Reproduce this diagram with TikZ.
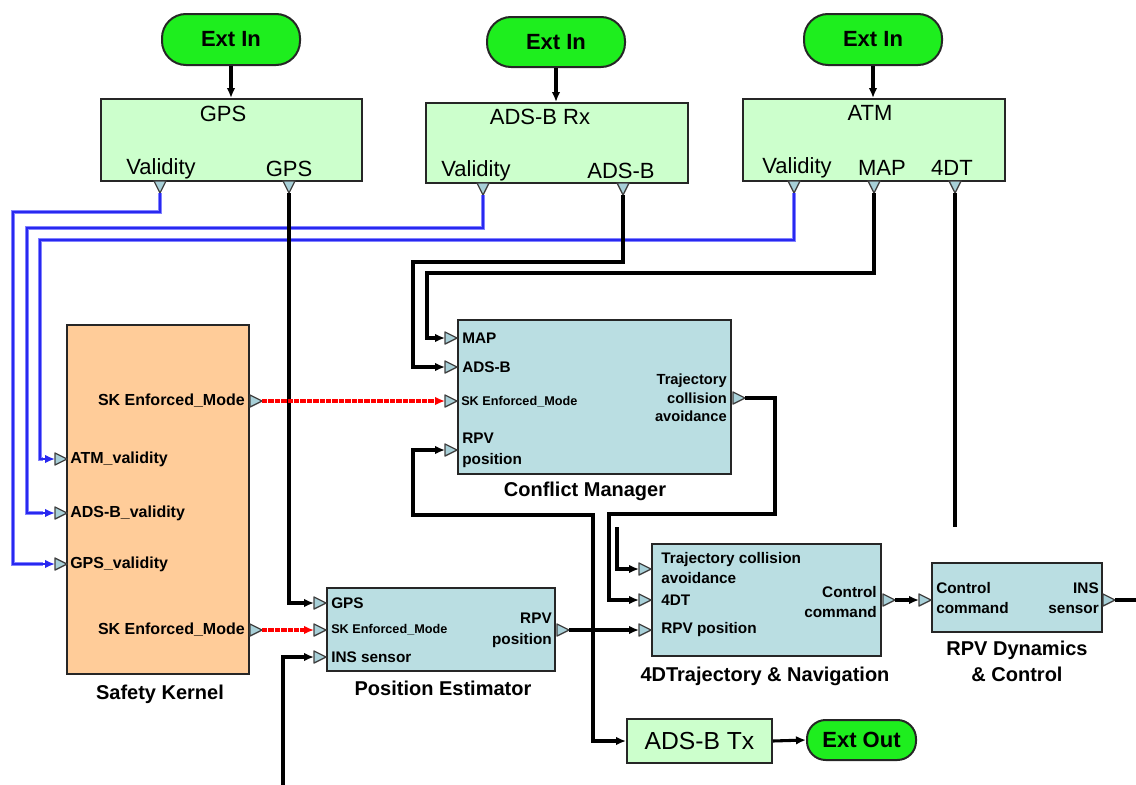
\documentclass[tikz,border=0pt]{standalone}
\usepackage{fontspec}
\setmainfont{Liberation Sans}
\usetikzlibrary{arrows.meta,fit}
\definecolor{extgreen}{RGB}{30,238,30}
\definecolor{lightgreen}{RGB}{204,255,204}
\definecolor{tealfill}{RGB}{186,222,226}
\definecolor{peach}{RGB}{255,204,153}
\definecolor{portblue}{RGB}{168,208,216}
\definecolor{wireblue}{RGB}{40,40,240}
\definecolor{wirehalo}{RGB}{130,130,255}
\tikzset{
  port/.style={fill=portblue, draw=black!75, line width=1pt, line join=round},
  pdown/.pic={\draw[port] (-6,0) -- (6,0) -- (0,12) -- cycle; \coordinate (-tip) at (0,12);},
  pright/.pic={\draw[port] (0,-6) -- (0,6) -- (12,0) -- cycle;
               \coordinate (-base) at (0,0); \coordinate (-tip) at (12,0);},
}
\begin{document}
\begin{tikzpicture}[x=0.75pt,y=-0.75pt,
  boxline/.style={draw=black!85, line width=1.5pt, inner sep=0pt},
  gbox/.style={boxline, fill=lightgreen},
  tbox/.style={boxline, fill=tealfill},
  skbox/.style={boxline, fill=peach},
  ext/.style={boxline, fill=extgreen, rounded corners=18pt},
  exttext/.style={inner sep=0pt, font=\fontsize{16.5}{19}\selectfont\bfseries},
  title/.style={inner sep=0pt, font=\fontsize{16.5}{19}\selectfont},
  blk/.style={inner sep=0pt, align=center, font=\fontsize{15}{19.5}\selectfont\bfseries},
  lbl/.style={inner sep=0pt, font=\fontsize{11.5}{15}\selectfont\bfseries},
  sklbl/.style={inner sep=0pt, font=\fontsize{12}{15}\selectfont\bfseries},
  tiny/.style={inner sep=0pt, font=\fontsize{9.5}{12}\selectfont\bfseries},
  tip/.style={-{Latex[length=7.5pt,width=6.5pt]}},
  wire/.style={draw=black, line width=2.3pt, line join=miter},
  bwire/.style={draw=wireblue, line width=2.2pt, tip},
  bhalo/.style={draw=wirehalo, line width=3.6pt},
  rwire/.style={draw=red, line width=2.5pt, dash pattern=on 4pt off 0.8pt, tip},
]
\useasboundingbox (0,0) rectangle (1136,785);

% ---------- external inputs and sensor blocks ----------
\node[ext, fit={(162,14) (300,65)}] (ext1) {};
\node[exttext] (ext1T) at (ext1) {Ext In};
\node[ext, fit={(487,17) (625,67)}] (ext2) {};
\node[exttext] (ext2T) at (ext2) {Ext In};
\node[ext, fit={(804,14) (942,65)}] (ext3) {};
\node[exttext] (ext3T) at (ext3) {Ext In};

\node[gbox, fit={(101,99) (362,181)}] (gps) {};
\node[title] (gpsT) at (223,114) {GPS};
\node[title] (gpsV) at (161,169) {Validity};
\node[title] (gpsD) at (289,169) {GPS};

\node[gbox, fit={(426,103) (688,183)}] (adsbrx) {};
\node[title] (adsT) at (540,117) {ADS-B Rx};
\node[title] (adsV) at (476,171) {Validity};
\node[title] (adsD) at (621,171) {ADS-B};

\node[gbox, fit={(743,99) (1005,181)}] (atm) {};
\node[title] (atmT) at (870,113) {ATM};
\node[title] (atmV) at (797,168) {Validity};
\node[title] (atmM) at (882,168) {MAP};
\node[title] (atmD) at (952,168) {4DT};

\pic (pGpsV) at (160,181) {pdown};
\pic (pGpsD) at (289,181) {pdown};
\pic (pAdsV) at (483,183) {pdown};
\pic (pAdsD) at (623,183) {pdown};
\pic (pAtmV) at (794,181) {pdown};
\pic (pAtmM) at (874,181) {pdown};
\pic (pAtmD) at (955,181) {pdown};

% ---------- safety kernel ----------
\node[skbox, fit={(67,325) (249,674)}] (sk) {};
\node[sklbl, anchor=east] (skM1) at (245,401) {SK Enforced\_Mode};
\node[sklbl, anchor=east] (skM2) at (245,630) {SK Enforced\_Mode};
\node[sklbl, anchor=west] (skA) at (70,459) {ATM\_validity};
\node[sklbl, anchor=west] (skB) at (70,513) {ADS-B\_validity};
\node[sklbl, anchor=west] (skG) at (70,564) {GPS\_validity};
\node[blk] (skT) at (160,694) {Safety Kernel};
\pic (pSKatm) at (55,459) {pright};
\pic (pSKads) at (55,513) {pright};
\pic (pSKgps) at (55,564) {pright};
\pic (pSKm1) at (250,401) {pright};
\pic (pSKm2) at (250,630) {pright};

% ---------- conflict manager ----------
\node[tbox, fit={(458,320) (731,474)}] (cm) {};
\node[lbl, anchor=west] (cmMap) at (462,338) {MAP};
\node[lbl, anchor=west] (cmAds) at (462,367) {ADS-B};
\node[tiny, anchor=west] (cmSk) at (461,402) {SK Enforced\_Mode};
\node[lbl, anchor=west, align=left, font=\fontsize{11.5}{15.5}\selectfont\bfseries] (cmRpv) at (462,450) {RPV\\position};
\node[lbl, anchor=east, align=right, font=\fontsize{11}{13.9}\selectfont\bfseries] (cmOut) at (727,398) {Trajectory\\collision\\avoidance};
\node[blk] (cmT) at (585,491) {Conflict Manager};
\pic (pCMmap) at (445,338) {pright};
\pic (pCMads) at (445,367) {pright};
\pic (pCMsk) at (445,401) {pright};
\pic (pCMrpv) at (445,450) {pright};
\pic (pCMout) at (733,398) {pright};

% ---------- position estimator ----------
\node[tbox, fit={(327,588) (555,671)}] (pe) {};
\node[lbl, anchor=west] (peGps) at (331,603) {GPS};
\node[tiny, anchor=west] (peSk) at (331,630) {SK Enforced\_Mode};
\node[lbl, anchor=west] (peIns) at (331,657) {INS sensor};
\node[lbl, anchor=east, align=right, font=\fontsize{11.5}{15.75}\selectfont\bfseries] (peOut) at (552,630) {RPV\\position};
\node[blk] (peT) at (443,688) {Position Estimator};
\pic (pPEgps) at (314,603) {pright};
\pic (pPEsk) at (314,630) {pright};
\pic (pPEins) at (314,657) {pright};
\pic (pPEout) at (557,630) {pright};

% ---------- 4D trajectory & navigation ----------
\node[tbox, fit={(652,544) (881,656)}] (traj) {};
\node[lbl, anchor=west, align=left] (trTca) at (661,568) {Trajectory collision\\avoidance};
\node[lbl, anchor=west] (trDt) at (661,600) {4DT};
\node[lbl, anchor=west] (trRpv) at (661,630) {RPV position};
\node[lbl, anchor=east, align=right] (trOut) at (877,602) {Control\\command};
\node[blk] (trT) at (765,676) {4DTrajectory \& Navigation};
\pic (pTRtca) at (639,569) {pright};
\pic (pTRdt) at (639,600) {pright};
\pic (pTRrpv) at (639,630) {pright};
\pic (pTRout) at (883,600) {pright};

% ---------- RPV dynamics & control ----------
\node[tbox, fit={(932,563) (1102,632)}] (rpv) {};
\node[lbl, anchor=west, align=left] (rpvIn) at (936,598) {Control\\command};
\node[lbl, anchor=east, align=right] (rpvOut) at (1099,598) {INS\\sensor};
\node[blk] (rpvT) at (1017,661) {RPV Dynamics\\\& Control};
\pic (pRPVin) at (919,600) {pright};
\pic (pRPVout) at (1103,600) {pright};

% ---------- ADS-B transmitter ----------
\node[gbox, fit={(627,719) (772,763)}] (adsbtx) {};
\node[title, font=\fontsize{18.5}{21}\selectfont] (adsbtxT) at (adsbtx) {ADS-B Tx};
\node[ext, rounded corners=14pt, fit={(807,720) (916,760)}] (extout) {};
\node[exttext] (extoutT) at (extout) {Ext Out};

% ---------- free wire ends ----------
\coordinate (insIn) at (283,785);
\coordinate (dtEnd) at (955,527);
\coordinate (tcaStart) at (617,527);
\coordinate (insOut) at (1136,600);
\coordinate (junc) at (593,630);

% ---------- connectors ----------
\draw[wire, tip] (ext1.south) -- (ext1.south |- gps.north);
\draw[wire, tip] (ext2.south) -- (ext2.south |- adsbrx.north);
\draw[wire, tip] (ext3.south) -- (ext3.south |- atm.north);

% validity signals (blue, with a pale halo)
\draw[bhalo] (pGpsV-tip) |- (13,212) |- ([xshift=-9]pSKgps-base);
\draw[bhalo] (pAdsV-tip) |- (27,228) |- ([xshift=-9]pSKads-base);
\draw[bhalo] (pAtmV-tip) |- (40,240) |- ([xshift=-9]pSKatm-base);
\draw[bwire] (pGpsV-tip) |- (13,212) |- (pSKgps-base);
\draw[bwire] (pAdsV-tip) |- (27,228) |- (pSKads-base);
\draw[bwire] (pAtmV-tip) |- (40,240) |- (pSKatm-base);

\draw[wire, tip] (pGpsD-tip) |- (pPEgps-base);
\draw[wire, tip] (pAdsD-tip) |- (413,262) |- (pCMads-base);
\draw[wire, tip] (pAtmM-tip) |- (427,273) |- (pCMmap-base);
\draw[wire] (pAtmD-tip) -- (dtEnd);

\draw[rwire] (pSKm1-tip) -- (pCMsk-base);
\draw[rwire] (pSKm2-tip) -- (pPEsk-base);

\draw[wire, tip] (pPEout-tip) -- (junc) -- (pTRrpv-base);
\draw[wire, tip] (junc) |- (413,515) |- (pCMrpv-base);
\draw[wire, tip] (junc) |- (adsbtx.west);
\draw[wire, tip] (adsbtx.east) -- (extout.west);

\draw[wire, tip] (pCMout-tip) -| (775,514) -| (609,600) -- (pTRdt-base);
\draw[wire, tip] (tcaStart) |- (pTRtca-base);
\draw[wire, tip] (pTRout-tip) -- (pRPVin-base);
\draw[wire] (pRPVout-tip) -- (insOut);
\draw[wire, tip] (insIn) |- (pPEins-base);
\end{tikzpicture}
\end{document}
